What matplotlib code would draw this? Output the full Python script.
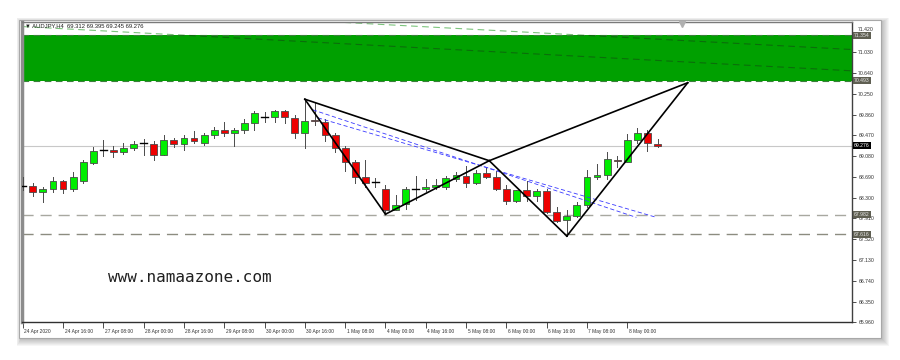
import matplotlib.pyplot as plt
import matplotlib.patches as mpatches
from matplotlib.transforms import ScaledTranslation

# H4 candles, AUDJPY (bar index 0 = 24 Apr 2020 00:00)
opens = [68.51, 68.52, 68.41, 68.46, 68.61, 68.47, 68.62, 68.96, 69.19, 69.20,
         69.16, 69.23, 69.32, 69.31, 69.10, 69.38, 69.31, 69.42, 69.32, 69.48,
         69.57, 69.51, 69.58, 69.71, 69.82, 69.81, 69.92, 69.80, 69.51, 69.76,
         69.73, 69.48, 69.23, 68.98, 68.68, 68.595, 68.46, 68.06, 68.18, 68.46,
         68.46, 68.50, 68.50, 68.66, 68.71, 68.58, 68.76, 68.69, 68.46, 68.24,
         68.44, 68.33, 68.43, 68.03, 67.88, 67.96, 68.16, 68.68, 68.72, 69.01,
         68.98, 69.38, 69.51, 69.312]
highs = [68.69, 68.57, 68.50, 68.68, 68.63, 68.78, 69.00, 69.25, 69.38, 69.28,
         69.32, 69.36, 69.40, 69.36, 69.48, 69.43, 69.48, 69.55, 69.51, 69.63,
         69.73, 69.60, 69.77, 69.92, 69.91, 69.95, 69.95, 69.86, 70.15, 70.07,
         69.78, 69.51, 69.27, 69.00, 69.01, 68.67, 68.54, 68.35, 68.51, 68.71,
         68.65, 68.65, 68.71, 68.78, 68.90, 68.82, 68.85, 68.80, 68.53, 68.44,
         68.62, 68.47, 68.47, 68.13, 68.07, 68.22, 68.82, 68.93, 69.16, 69.08,
         69.50, 69.60, 69.58, 69.395]
lows = [68.44, 68.33, 68.21, 68.41, 68.39, 68.43, 68.57, 68.93, 69.08, 69.07,
        69.13, 69.20, 69.11, 69.01, 69.10, 69.26, 69.20, 69.32, 69.29, 69.43,
        69.46, 69.28, 69.51, 69.58, 69.73, 69.73, 69.71, 69.43, 69.23, 69.67,
        69.37, 69.16, 68.81, 68.58, 68.51, 68.50, 67.99, 68.06, 68.09, 68.26,
        68.42, 68.47, 68.47, 68.62, 68.51, 68.56, 68.67, 68.44, 68.18, 68.22,
        68.24, 68.24, 68.01, 67.84, 67.58, 67.93, 68.13, 68.65, 68.65, 68.88,
        68.97, 69.32, 69.17, 69.245]
closes = [68.52, 68.41, 68.47, 68.61, 68.47, 68.68, 68.97, 69.18, 69.20, 69.16,
          69.23, 69.30, 69.32, 69.11, 69.38, 69.31, 69.42, 69.36, 69.48, 69.57,
          69.51, 69.58, 69.71, 69.90, 69.82, 69.92, 69.81, 69.51, 69.75, 69.74,
          69.48, 69.23, 68.98, 68.68, 68.58, 68.595, 68.06, 68.17, 68.46, 68.46,
          68.50, 68.53, 68.67, 68.72, 68.58, 68.76, 68.68, 68.47, 68.24, 68.44,
          68.34, 68.43, 68.03, 67.86, 67.96, 68.16, 68.68, 68.72, 69.02, 68.99,
          69.38, 69.51, 69.32, 69.276]

# harmonic pattern points (bar index, price)
pat_x = [28, 36, 46.3, 54, 66]
pat_y = [70.15, 67.99, 68.995, 67.58, 70.46]
pat_segments = [(0, 1), (1, 2), (0, 2), (2, 3), (3, 4), (2, 4)]

# blue dashed lines
blue_lines = [((28.8, 69.95), (60.9, 67.93)),
              ((29.3, 69.80), (62.9, 67.93))]

# green dashed trend lines
trend_lines = [((0, 71.514), (82.3, 70.683)),
               ((0, 71.914), (82.3, 71.083))]

zone_top, zone_bottom = 71.354, 70.493
level_lines = [67.982, 67.616]
last_price = 69.276

price_ticks = [65.96 + 0.39 * k for k in range(15)]
date_pos = list(range(0, 61, 4))
date_labels = ["24 Apr 2020", "24 Apr 16:00", "27 Apr 08:00", "28 Apr 00:00",
               "28 Apr 16:00", "29 Apr 08:00", "30 Apr 00:00", "30 Apr 16:00",
               "1 May 08:00", "4 May 00:00", "4 May 16:00", "5 May 08:00",
               "6 May 00:00", "6 May 16:00", "7 May 08:00", "8 May 00:00"]

W, H = 900, 360
fig = plt.figure(figsize=(9, 3.6), dpi=100)
fig.patch.set_facecolor("white")


def fbox(x0, y0, x1, y1):
    # pixel box (top-left origin) -> figure fraction
    return x0 / W, 1 - y1 / H, (x1 - x0) / W, (y1 - y0) / H


# window shadow + frame
for s in range(7, 0, -1):
    l, b, w, h = fbox(19 - s * 0.6 + 2, 20 - s * 0.6 + 2, 881 + s + 1, 338 + s + 1)
    fig.patches.append(mpatches.Rectangle((l, b), w, h, transform=fig.transFigure,
                                          facecolor="black", alpha=0.035,
                                          edgecolor="none", zorder=0))
l, b, w, h = fbox(19, 20, 881, 338)
fig.patches.append(mpatches.Rectangle((l, b), w, h, transform=fig.transFigure,
                                      facecolor="white", edgecolor="#a8a8a8",
                                      lw=0.8, zorder=1))

ax = fig.add_axes(fbox(22, 22, 852, 322.3))
ax.set_zorder(2)
ax.set_facecolor("white")
ax.set_xlim(-0.07, 82.3)
ax.set_ylim(65.96, 71.60)

# resistance zone
ax.add_patch(mpatches.Rectangle((-1, zone_bottom), 90, zone_top - zone_bottom,
                                facecolor="#00a000", edgecolor="none", zorder=1))
for lv in (zone_top, zone_bottom):
    ax.axhline(lv, color="#3c7f3c", lw=0.8, ls=(0, (6, 4)), zorder=1.5)
zone_clip = mpatches.Rectangle((-1, zone_bottom), 90, zone_top - zone_bottom,
                               transform=ax.transData)
for (x0, y0), (x1, y1) in trend_lines:
    ax.plot([x0, x1], [y0, y1], color="#7cc47c", lw=0.8, ls=(0, (6, 4)), zorder=0.5)
    ln, = ax.plot([x0, x1], [y0, y1], color="#0b6e0b", lw=0.8, ls=(0, (6, 4)), zorder=1.6)
    ln.set_clip_path(zone_clip)

# horizontal levels
ax.axhline(last_price, color="#c8c8c8", lw=0.8, zorder=1)
ax.axhline(level_lines[0], color="#a8a8a0", lw=1.0, ls=(0, (8, 5)), zorder=1)
ax.axhline(level_lines[1], color="#8c8c80", lw=1.0, ls=(0, (8, 5)), zorder=1)

# candles
bw = 0.68
for i in range(len(opens)):
    o, hi, lo, c = opens[i], highs[i], lows[i], closes[i]
    ax.plot([i, i], [lo, hi], color="#4a4a4a", lw=0.7, zorder=3)
    if abs(c - o) < 0.015:
        col = "#8b0000" if c < o else "black"
        ax.plot([i - bw / 2, i + bw / 2], [c, c], color=col, lw=1.0, zorder=4)
    else:
        fc = "#00ee00" if c > o else "#ee0000"
        ax.add_patch(mpatches.Rectangle((i - bw / 2, min(o, c)), bw, abs(c - o),
                                        facecolor=fc, edgecolor="#4a4a4a",
                                        lw=0.6, zorder=4))

# blue dashed lines
for (x0, y0), (x1, y1) in blue_lines:
    ax.plot([x0, x1], [y0, y1], color="#3a3aff", lw=0.6, ls=(0, (5, 3)), zorder=5)

# harmonic pattern
for a, b2 in pat_segments:
    ax.plot([pat_x[a], pat_x[b2]], [pat_y[a], pat_y[b2]], color="black",
            lw=1.2, zorder=6)

# shift marker
ax.plot([65.4], [71.57], marker="v", color="#b0b0b0", ms=4, clip_on=False, zorder=7)

# texts
ax.text(0.004, 0.986, "\u25bc AUDJPY,H4  69.312 69.395 69.245 69.276",
        transform=ax.transAxes, ha="left", va="center", fontsize=4.2,
        family="Liberation Sans", color="#202020", zorder=8)
ax.text(0.2024, 0.1508, "www.namaazone.com", transform=ax.transAxes,
        ha="center", va="center", fontsize=11.5, family="DejaVu Sans Mono",
        color="#202020", zorder=8)

# axes styling
for side, col, lw in (("left", "#8c8c8c", 2.5), ("top", "#7a7a7a", 1.0),
                      ("right", "#404040", 1.0), ("bottom", "#303030", 1.0)):
    ax.spines[side].set_color(col)
    ax.spines[side].set_linewidth(lw)

ax.yaxis.tick_right()
ax.set_yticks(price_ticks)
ax.set_yticklabels([f"{v:.3f}" for v in price_ticks])
ax.tick_params(axis="y", length=3, width=0.6, pad=1.5, labelsize=3.7,
               colors="#303030")
ax.set_xticks(date_pos)
ax.set_xticklabels(date_labels)
ax.tick_params(axis="x", length=4, width=0.6, pad=0.5, labelsize=3.5,
               colors="#303030", direction="out")
for lab in ax.get_xticklabels():
    lab.set_horizontalalignment("left")
    lab.set_transform(lab.get_transform() + ScaledTranslation(1.5 / 100, 0, fig.dpi_scale_trans))
for lab in ax.get_yticklabels() + ax.get_xticklabels():
    lab.set_family("Liberation Sans")
# top label sits just above the zone-top box
top_lab = ax.get_yticklabels()[-1]
top_lab.set_transform(top_lab.get_transform() + ScaledTranslation(0, 2.5 / 100, fig.dpi_scale_trans))

# price boxes on right axis
for v, bg, fg in ((zone_top, "#5f5f52", "#e8e8e8"), (zone_bottom, "#5f5f52", "#e8e8e8"),
                  (last_price, "black", "white"),
                  (level_lines[0], "#5f5f52", "#e8e8e8"), (level_lines[1], "#5f5f52", "#e8e8e8")):
    ax.text(1.0022, v, f"{v:.3f}", transform=ax.get_yaxis_transform(),
            ha="left", va="center", fontsize=3.7, family="Liberation Sans",
            color=fg, clip_on=False, zorder=10,
            bbox=dict(boxstyle="square,pad=0.2", facecolor=bg, edgecolor="none"))

fig.savefig("out.png", dpi=100)
